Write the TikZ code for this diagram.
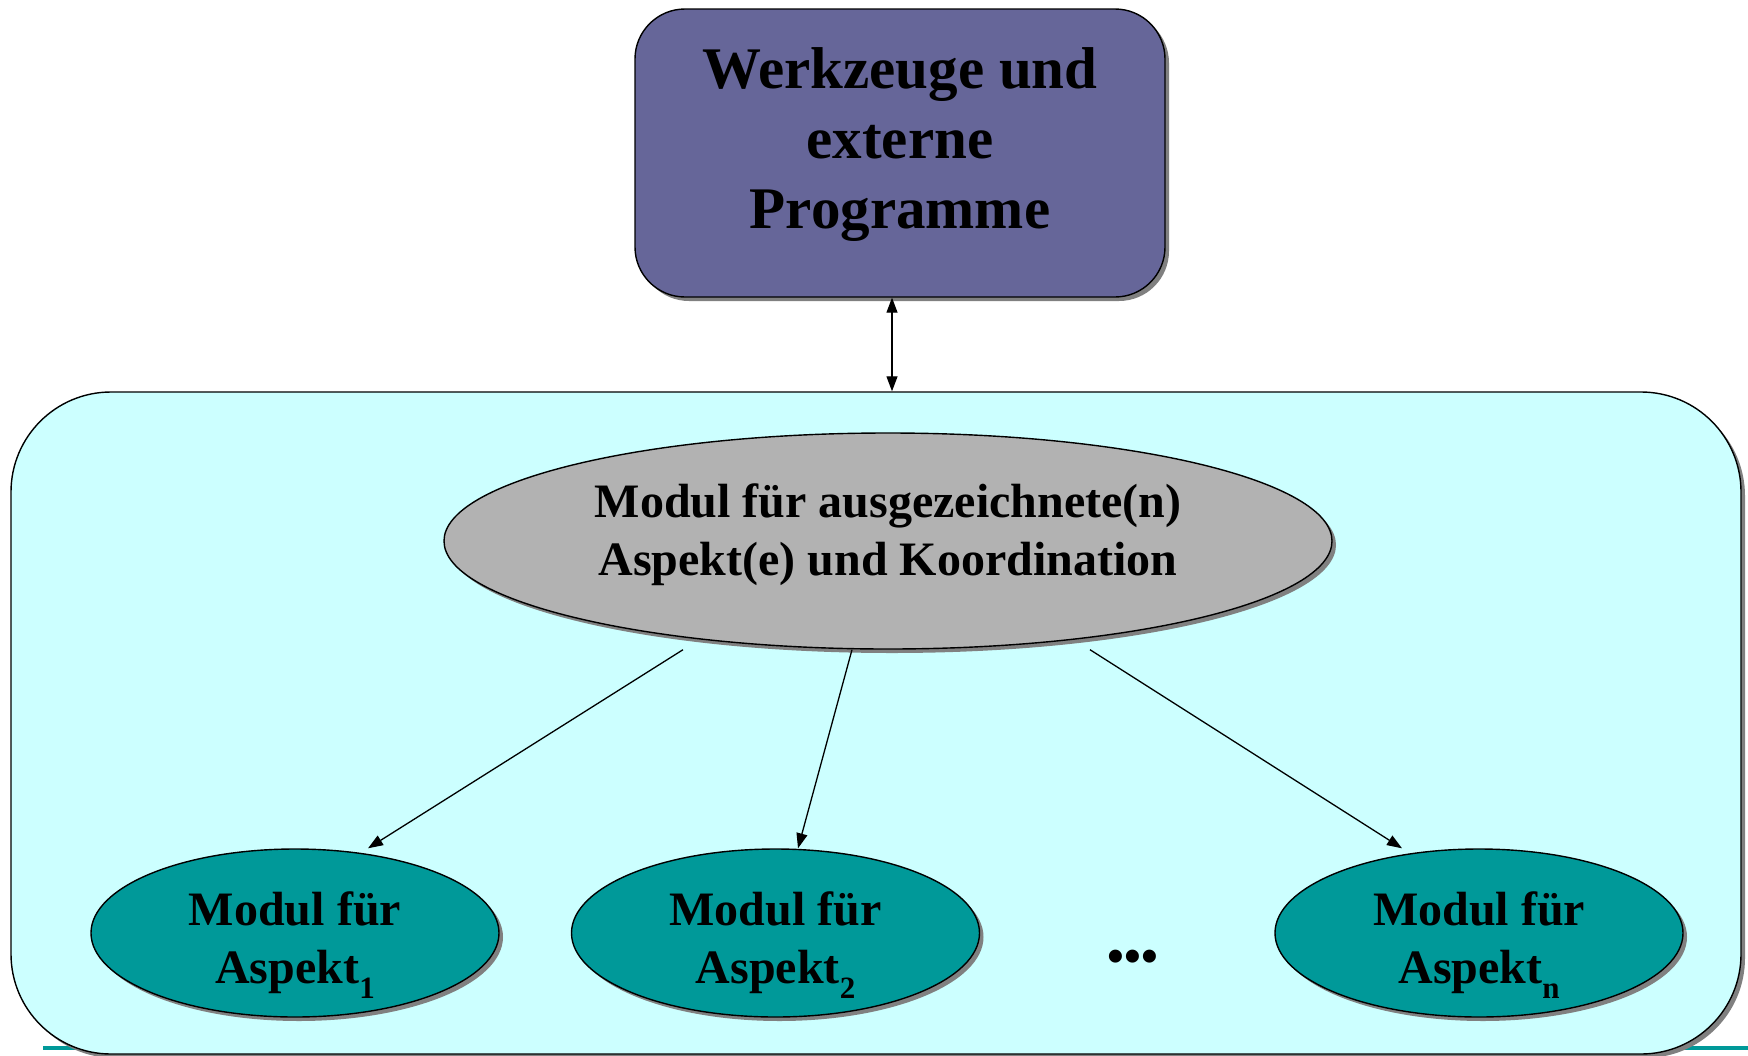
\documentclass[tikz,border=0pt]{standalone}
\usepackage{fontspec}
\setmainfont{Liberation Serif}
\usetikzlibrary{shapes.geometric,arrows.meta,shadows}

\definecolor{boxpurple}{HTML}{666699}
\definecolor{paleCyan}{HTML}{CCFFFF}
\definecolor{modgray}{HTML}{B2B2B2}
\definecolor{modteal}{HTML}{009999}
\definecolor{shadowgray}{HTML}{808080}

\newcommand{\subidx}[1]{\raisebox{-0.3em}{\fontsize{31}{31}\selectfont #1}}

\tikzset{
  shade/.style={drop shadow={shadow xshift=4pt, shadow yshift=-4pt, fill=shadowgray, opacity=1}},
  toolbox/.style={draw=black, line width=1.4pt, fill=boxpurple, rounded corners=50pt,
    minimum width=530pt, minimum height=288pt, inner sep=0pt, shade},
  frame/.style={draw=black, line width=1.4pt, fill=paleCyan, rounded corners=100pt,
    minimum width=1730pt, minimum height=662pt, inner sep=0pt, shade},
  coremod/.style={ellipse, draw=black, line width=1.4pt, fill=modgray,
    minimum width=888pt, minimum height=216pt, inner sep=0pt, shade},
  aspmod/.style={ellipse, draw=black, line width=1.4pt, fill=modteal,
    minimum width=408pt, minimum height=168pt, inner sep=0pt, shade},
  bigtext/.style={inner sep=0pt, align=center, font=\bfseries\fontsize{59}{70}\selectfont},
  modtext/.style={inner sep=0pt, align=center, font=\bfseries\fontsize{48}{58}\selectfont},
  arr/.style={line width=1.3pt, -{Triangle[length=15pt,width=11pt]}},
  darr/.style={line width=1.3pt, {Triangle[length=15pt,width=11pt]}-{Triangle[length=15pt,width=11pt]}}
}

\begin{document}
\begin{tikzpicture}[x=1pt, y=-1pt]
  \useasboundingbox (0,0) rectangle (1748,1055);
  \fill[white] (0,0) rectangle (1748,1055);

  % teal rule running along the bottom
  \draw[modteal, line width=4pt] (43,1048) -- (1748,1048);

  % outer container
  \node[frame] (cont) at (876,723) {};

  % tools box
  \node[toolbox] (tools) at (900,153) {};
  \node[bigtext] (toolsT) at ([yshift=8pt]tools.center) {Werkzeuge und\\externe\\Programme};

  % coordinating module
  \node[coremod] (core) at (888,541) {};
  \node[modtext] (coreT) at ([yshift=6pt]core.center) {Modul für ausgezeichnete(n)\\Aspekt(e) und Koordination};

  % aspect modules
  \node[aspmod] (m1) at (295,933) {};
  \node[aspmod] (m2) at (775.5,933) {};
  \node[aspmod] (mn) at (1479,933) {};
  \node[modtext] (m1T) at ([yshift=-12pt]m1.center) {Modul für\\Aspekt\subidx{1}};
  \node[modtext] (m2T) at ([yshift=-12pt]m2.center) {Modul für\\Aspekt\subidx{2}};
  \node[modtext] (mnT) at ([yshift=-12pt]mn.center) {Modul für\\Aspekt\subidx{n}};

  \node[modtext] (dots) at (1133,961) {•••};

  % connectors
  \draw[darr] ([xshift=-8pt]tools.south) -- ([xshift=16pt]cont.north);
  \draw[arr] ([xshift=-205pt]core.south) -- ([xshift=73pt]m1.north);
  \draw[arr] ([xshift=-36pt]core.south) -- ([xshift=22.5pt]m2.north);
  \draw[arr] ([xshift=202pt]core.south) -- ([xshift=-77pt]mn.north);
\end{tikzpicture}
\end{document}
